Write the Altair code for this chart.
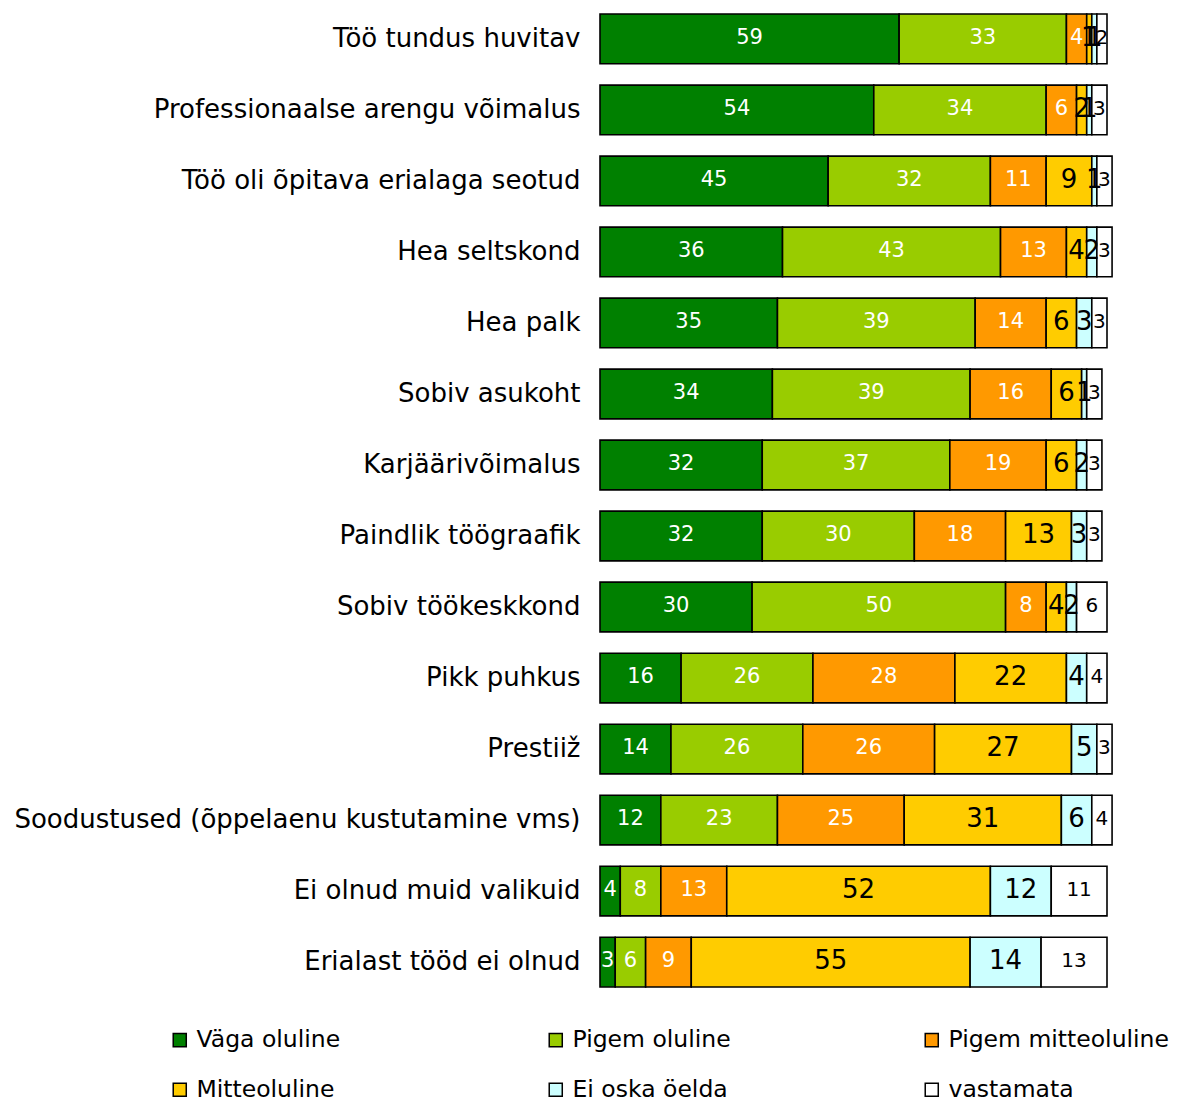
import altair as alt
import pandas as pd

categories = [
    "Töö tundus huvitav",
    "Professionaalse arengu võimalus",
    "Töö oli õpitava erialaga seotud",
    "Hea seltskond",
    "Hea palk",
    "Sobiv asukoht",
    "Karjäärivõimalus",
    "Paindlik töögraafik",
    "Sobiv töökeskkond",
    "Pikk puhkus",
    "Prestiiž",
    "Soodustused (õppelaenu kustutamine vms)",
    "Ei olnud muid valikuid",
    "Erialast tööd ei olnud",
]
series = ["Väga oluline", "Pigem oluline", "Pigem mitteoluline",
          "Mitteoluline", "Ei oska öelda", "vastamata"]
vaga_oluline = [59, 54, 45, 36, 35, 34, 32, 32, 30, 16, 14, 12, 4, 3]
pigem_oluline = [33, 34, 32, 43, 39, 39, 37, 30, 50, 26, 26, 23, 8, 6]
pigem_mitteoluline = [4, 6, 11, 13, 14, 16, 19, 18, 8, 28, 26, 25, 13, 9]
mitteoluline = [1, 2, 9, 4, 6, 6, 6, 13, 4, 22, 27, 31, 52, 55]
ei_oska = [1, 1, 1, 2, 3, 1, 2, 3, 2, 4, 5, 6, 12, 14]
vastamata = [2, 3, 3, 3, 3, 3, 3, 3, 6, 4, 3, 4, 11, 13]
colors = ["#008000", "#99cc00", "#ff9900", "#ffcc00", "#ccffff", "#ffffff"]

values = [vaga_oluline, pigem_oluline, pigem_mitteoluline, mitteoluline, ei_oska, vastamata]
rows = []
for si, (s, vals) in enumerate(zip(series, values)):
    for c, v in zip(categories, vals):
        rows.append({"cat": c, "series": s, "value": v, "order": si})
df = pd.DataFrame(rows)

FONT = "DejaVu Sans"

base = alt.Chart(df).transform_stack(
    stack="value", groupby=["cat"], as_=["x0", "x1"],
    sort=[alt.SortField("order", order="ascending")]
).transform_calculate(mid="(datum.x0 + datum.x1) / 2")

y_enc = alt.Y(
    "cat:N", sort=categories,
    scale=alt.Scale(paddingInner=0.3, paddingOuter=0.015),
    axis=alt.Axis(title=None, labelFontSize=26, labelFont=FONT, labelColor="black",
                  ticks=False, domain=False, labelPadding=20, labelLimit=0),
)
x_scale = alt.Scale(domain=[0, 100], nice=False)

bars = base.mark_bar(stroke="black", strokeWidth=1.6).encode(
    y=y_enc,
    x=alt.X("x0:Q", scale=x_scale, axis=None),
    x2="x1:Q",
    color=alt.Color(
        "series:N",
        scale=alt.Scale(domain=series, range=colors),
        legend=alt.Legend(
            title=None, orient="none", legendX=-432, legendY=1015,
            direction="horizontal",
            columns=3, gridAlign="all", columnPadding=127, rowPadding=25,
            symbolType="square", symbolSize=170, symbolStrokeColor="black",
            symbolStrokeWidth=1.5, labelFontSize=23.5, labelFont=FONT,
            labelColor="black", labelLimit=0, labelOffset=5,
        ),
    ),
)

def text_layer(filter_expr, size, color):
    return base.transform_filter(filter_expr).mark_text(
        font=FONT, fontSize=size, color=color, baseline="middle", align="center", dy=-1
    ).encode(
        y=alt.Y("cat:N", sort=categories),
        x=alt.X("mid:Q", scale=x_scale),
        text="value:Q",
    )

t_white = text_layer("datum.order <= 2", 21, "white")
t_big = text_layer("datum.order == 3 || datum.order == 4", 26, "black")
t_last = text_layer("datum.order == 5", 20, "black")

chart = alt.layer(bars, t_white, t_big, t_last).properties(
    width=507, height=975,
    autosize=alt.AutoSizeParams(type="none"),
    padding={"left": 592, "top": 5, "right": 62, "bottom": 118},
).configure_view(stroke=None)

chart.save("out.html", embed_options={"renderer": "svg", "actions": False})
